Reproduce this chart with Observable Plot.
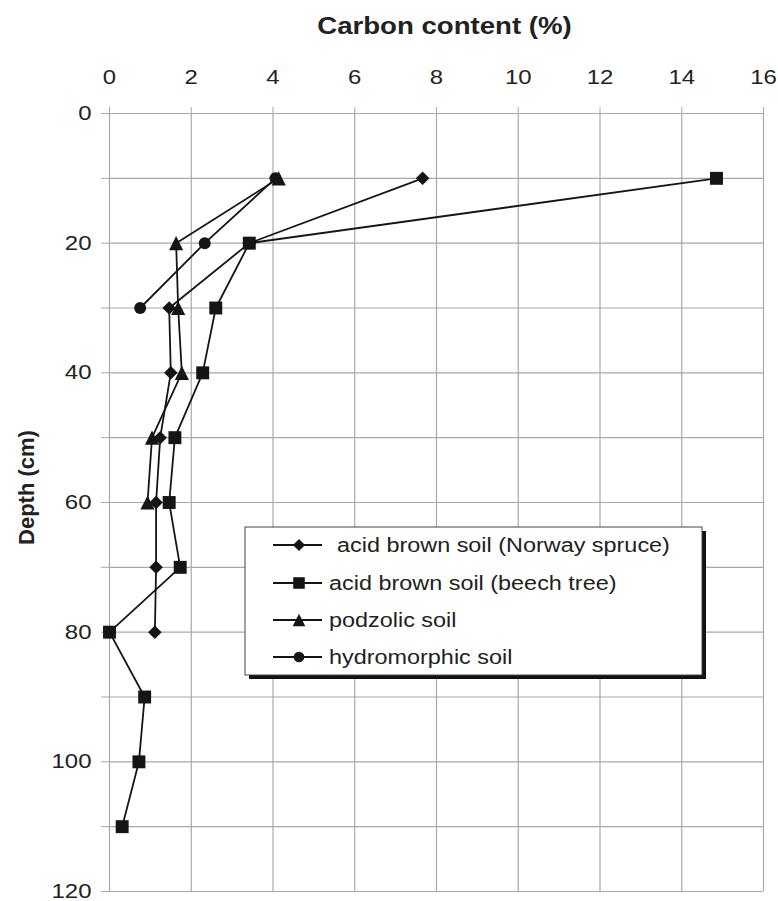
<!DOCTYPE html>
<html>
<head>
<meta charset="utf-8">
<script src="https://cdn.jsdelivr.net/npm/d3@7"></script>
<script src="https://cdn.jsdelivr.net/npm/@observablehq/plot@0.6"></script>
<style>
  body { margin: 0; background: #fff; }
  #chart { position: relative; width: 778px; height: 901px; }
  svg { font-family: "Liberation Sans", Arial, Helvetica, sans-serif; }
</style>
</head>
<body>
<div id="chart"></div>
<script>
// ---- data ----
const seriesNames = [
  "acid brown soil (Norway spruce)",
  "acid brown soil (beech tree)",
  "podzolic soil",
  "hydromorphic soil"
];
const depthSpruce = [10, 20, 30, 40, 50, 60, 70, 80];
const carbonSpruce = [7.66, 3.42, 1.46, 1.50, 1.24, 1.14, 1.14, 1.11];
const depthBeech = [10, 20, 30, 40, 50, 60, 70, 80, 90, 100, 110];
const carbonBeech = [14.85, 3.42, 2.60, 2.28, 1.60, 1.46, 1.73, 0.0, 0.86, 0.72, 0.31];
const depthPodzolic = [10, 20, 30, 40, 50, 60];
const carbonPodzolic = [4.14, 1.63, 1.68, 1.77, 1.04, 0.93];
const depthHydro = [10, 20, 30];
const carbonHydro = [4.06, 2.33, 0.75];

const xTicks = [0, 2, 4, 6, 8, 10, 12, 14, 16];
const yTicks = [0, 10, 20, 30, 40, 50, 60, 70, 80, 90, 100, 110, 120];
const yLabelTicks = [0, 20, 40, 60, 80, 100, 120];

const xTitle = "Carbon content (%)";
const yTitle = "Depth (cm)";

// ---- build table ----
function rows(name, depths, values) {
  return depths.map((d, i) => ({series: name, depth: d, carbon: values[i]}));
}
const data = [
  ...rows(seriesNames[0], depthSpruce, carbonSpruce),
  ...rows(seriesNames[1], depthBeech, carbonBeech),
  ...rows(seriesNames[2], depthPodzolic, carbonPodzolic),
  ...rows(seriesNames[3], depthHydro, carbonHydro)
];

// triangle centred on its bounding box (as in the spreadsheet original)
const boxTriangle = {
  draw(context, size) {
    const t = Math.sqrt(size / Math.PI) * 1.22;
    context.moveTo(0, -t);
    context.lineTo(t, t);
    context.lineTo(-t, t);
    context.closePath();
  }
};

const symbols = [d3.symbolDiamond2, d3.symbolSquare, boxTriangle, d3.symbolCircle];
const radii = [6.1, 7.3, 5.8, 6];
const drawOrder = [3, 0, 1, 2]; // hydromorphic below, podzolic on top
const ink = "#151515";
const gridColor = "#a8a8a8";

const dots = drawOrder.map(i =>
  Plot.dot(data.filter(d => d.series === seriesNames[i]), {
    x: "carbon", y: "depth", symbol: symbols[i], r: radii[i], fill: ink, stroke: "none"
  })
);

const chart = Plot.plot({
  width: 778,
  height: 901,
  marginLeft: 109,
  marginRight: 15,
  marginTop: 113,
  marginBottom: 10,
  style: {background: "#fff", color: "#222", fontFamily: '"Liberation Sans", Arial, sans-serif'},
  x: {domain: [0, 16]},
  y: {domain: [0, 120], reverse: true},
  marks: [
    Plot.gridX({ticks: xTicks, stroke: gridColor, strokeOpacity: 1, strokeWidth: 1.2}),
    Plot.gridY({ticks: yTicks, stroke: gridColor, strokeOpacity: 1, strokeWidth: 1.2}),
    Plot.axisX({anchor: "top", ticks: xTicks, tickSize: 7, tickPadding: 23, label: null,
                fontSize: 20, stroke: gridColor, fill: "#222"}),
    Plot.axisY({anchor: "left", ticks: yTicks, tickSize: 8, tickPadding: 10, label: null,
                tickFormat: d => (yLabelTicks.includes(d) ? String(d) : ""),
                fontSize: 20, stroke: gridColor, fill: "#222"}),
    Plot.text([xTitle], {frameAnchor: "top", textAnchor: "middle", lineAnchor: "middle",
                         dy: -87, dx: 8, fontSize: 23, fontWeight: "bold", fill: "#222"}),
    Plot.text([yTitle], {frameAnchor: "left", textAnchor: "middle", lineAnchor: "middle",
                         rotate: -90, dx: -83, dy: -15, fontSize: 22,
                         fontWeight: "bold", fill: "#222"}),
    Plot.line(data, {x: "carbon", y: "depth", z: "series", stroke: ink, strokeWidth: 1.8}),
    ...dots
  ]
});

document.getElementById("chart").append(chart);

// ---- legend (layout box, inside the SVG) ----
const svg = d3.select(chart);
const lg = svg.append("g").attr("aria-label", "legend").attr("text-anchor", "start");
const box = {x: 245, y: 527, w: 457, h: 148};
lg.append("rect").attr("x", box.x + 4).attr("y", box.y + 4).attr("width", box.w).attr("height", box.h).attr("fill", "#111");
lg.append("rect").attr("x", box.x).attr("y", box.y).attr("width", box.w).attr("height", box.h)
  .attr("fill", "#fff").attr("stroke", "#444").attr("stroke-width", 1);
const rowY = [545, 583, 620, 657];
const textX = [337, 329, 329, 329];
seriesNames.forEach((name, i) => {
  const g = lg.append("g");
  g.append("line").attr("x1", 273).attr("x2", 322).attr("y1", rowY[i]).attr("y2", rowY[i])
    .attr("stroke", ink).attr("stroke-width", 1.8);
  g.append("path").attr("transform", `translate(299,${rowY[i]})`)
    .attr("d", d3.symbol(symbols[i], Math.PI * radii[i] * radii[i] * 0.8)()).attr("fill", ink);
  g.append("text").attr("x", textX[i]).attr("y", rowY[i]).attr("dy", "0.36em")
    .attr("text-anchor", "start")
    .attr("font-size", 19.5).attr("fill", "#222").text(name);
});

// ---- horizontal stretch of the horizontal texts (reference font is wide) ----
const SX = 1.2;
chart.querySelectorAll("text").forEach(t => {
  if (t.textContent === yTitle) return;
  if (!t.textContent.trim()) return;
  const w = t.getComputedTextLength();
  if (w > 0) {
    t.setAttribute("textLength", (w * SX).toFixed(1));
    t.setAttribute("lengthAdjust", "spacingAndGlyphs");
  }
});
</script>
</body>
</html>
